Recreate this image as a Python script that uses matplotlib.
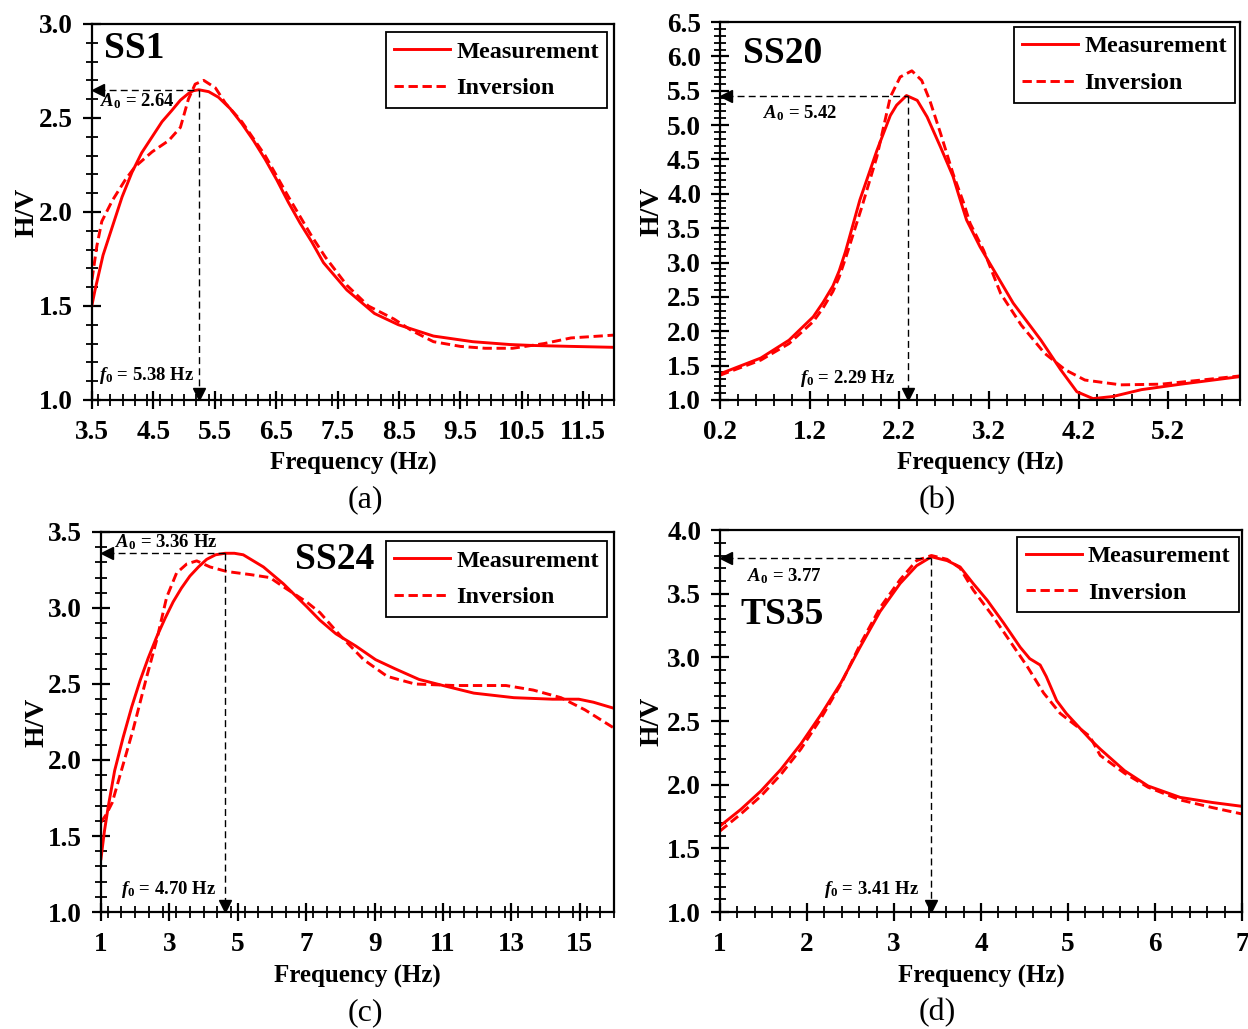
import matplotlib.pyplot as plt
from matplotlib.ticker import MultipleLocator

plt.rcParams['font.family'] = ['Liberation Serif', 'DejaVu Serif']
plt.rcParams['font.weight'] = 'bold'
plt.rcParams['mathtext.fontset'] = 'custom'
plt.rcParams['mathtext.rm'] = 'Liberation Serif:bold'
plt.rcParams['mathtext.it'] = 'Liberation Serif:italic:bold'
plt.rcParams['mathtext.bf'] = 'Liberation Serif:bold'

# ---- (a) SS1 ----
a_meas_f = [3.5, 3.55, 3.68, 3.83, 3.99, 4.15, 4.31, 4.48, 4.64, 4.80, 4.94, 5.07, 5.15, 5.24,
            5.40, 5.56, 5.75, 5.94, 6.13, 6.32, 6.51, 6.70, 6.89, 7.08, 7.27, 7.65, 8.1, 8.49,
            9.06, 9.7, 10.3, 10.67, 11.3, 12.0]
a_meas_hv = [1.505, 1.585, 1.77, 1.92, 2.08, 2.21, 2.315, 2.40, 2.48, 2.54, 2.595, 2.63, 2.645, 2.65,
             2.64, 2.61, 2.55, 2.47, 2.38, 2.28, 2.17, 2.05, 1.94, 1.84, 1.73, 1.585, 1.46, 1.40,
             1.34, 1.31, 1.295, 1.29, 1.285, 1.28]
a_inv_f = [3.5, 3.58, 3.66, 3.83, 4.04, 4.2, 4.48, 4.75, 4.94, 5.07, 5.18, 5.32, 5.51, 5.67,
           5.94, 6.32, 6.70, 7.08, 7.3, 7.65, 8.0, 8.42, 8.7, 9.06, 9.5, 9.9, 10.35, 10.86, 11.3, 12.0]
a_inv_hv = [1.64, 1.82, 1.95, 2.06, 2.17, 2.24, 2.32, 2.38, 2.45, 2.60, 2.68, 2.70, 2.66, 2.58,
            2.48, 2.30, 2.08, 1.87, 1.76, 1.61, 1.50, 1.43, 1.37, 1.31, 1.285, 1.275, 1.275, 1.30, 1.33, 1.345]

# ---- (b) SS20 ----
b_meas_f = [0.2, 0.655, 0.97, 1.24, 1.35, 1.46, 1.53, 1.6, 1.76, 1.95, 2.10, 2.17, 2.28, 2.40,
            2.51, 2.66, 2.80, 2.88, 2.95, 3.10, 3.47, 3.78, 4.0, 4.18, 4.36, 4.58, 4.9, 5.34, 6.0]
b_meas_hv = [1.38, 1.61, 1.87, 2.21, 2.42, 2.66, 2.88, 3.16, 3.91, 4.63, 5.14, 5.29, 5.43, 5.36,
             5.12, 4.68, 4.25, 3.91, 3.62, 3.23, 2.41, 1.87, 1.44, 1.12, 1.02, 1.05, 1.15, 1.23, 1.34]
b_inv_f = [0.2, 0.655, 0.97, 1.24, 1.35, 1.46, 1.53, 1.61, 1.78, 1.95, 2.10, 2.21, 2.34, 2.45,
           2.54, 2.66, 2.80, 2.92, 2.99, 3.14, 3.33, 3.56, 3.82, 4.05, 4.27, 4.67, 5.12, 5.57, 6.0]
b_inv_hv = [1.36, 1.58, 1.82, 2.14, 2.34, 2.58, 2.79, 3.10, 3.80, 4.54, 5.41, 5.70, 5.79, 5.65,
            5.36, 4.88, 4.29, 3.86, 3.57, 3.18, 2.55, 2.09, 1.68, 1.44, 1.29, 1.22, 1.23, 1.29, 1.35]

# ---- (c) SS24 ----
c_meas_f = [1.0, 1.1, 1.21, 1.4, 1.65, 1.9, 2.14, 2.38, 2.63, 2.87, 3.11, 3.35, 3.60, 3.85, 4.09,
            4.35, 4.63, 4.9, 5.16, 5.75, 6.33, 7.01, 7.40, 7.87, 8.45, 9.03, 9.6, 10.3, 11.0, 11.9,
            13.07, 14.2, 14.97, 15.4, 16.0]
c_meas_hv = [1.35, 1.53, 1.69, 1.93, 2.15, 2.35, 2.52, 2.67, 2.81, 2.93, 3.04, 3.13, 3.21, 3.27, 3.32,
             3.35, 3.36, 3.36, 3.35, 3.27, 3.16, 3.01, 2.92, 2.83, 2.75, 2.66, 2.60, 2.53, 2.49, 2.44,
             2.41, 2.40, 2.40, 2.38, 2.34]
c_inv_f = [1.0, 1.15, 1.33, 1.52, 1.94, 2.34, 2.63, 2.92, 3.21, 3.51, 3.80, 4.19, 4.68, 5.36, 5.94,
           6.33, 7.01, 7.40, 7.99, 8.68, 9.37, 10.18, 11.33, 12.84, 13.64, 14.45, 15.15, 16.0]
c_inv_hv = [1.59, 1.64, 1.72, 1.87, 2.20, 2.55, 2.79, 3.07, 3.23, 3.29, 3.31, 3.27, 3.24, 3.22, 3.20,
            3.14, 3.04, 2.97, 2.82, 2.66, 2.55, 2.50, 2.49, 2.49, 2.46, 2.41, 2.33, 2.21]

# ---- (d) TS35 ----
d_meas_f = [1.0, 1.24, 1.47, 1.70, 1.93, 2.16, 2.39, 2.61, 2.84, 3.07, 3.26, 3.43, 3.61, 3.76,
            3.91, 4.07, 4.26, 4.45, 4.56, 4.68, 4.75, 4.87, 4.98, 5.25, 5.37, 5.65, 5.92, 6.29, 6.66, 7.0]
d_meas_hv = [1.675, 1.806, 1.95, 2.12, 2.32, 2.55, 2.80, 3.08, 3.36, 3.58, 3.72, 3.79, 3.76, 3.71,
             3.58, 3.45, 3.27, 3.08, 2.99, 2.94, 2.85, 2.66, 2.56, 2.36, 2.28, 2.11, 1.99, 1.90, 1.86, 1.83]
d_inv_f = [1.0, 1.24, 1.47, 1.70, 1.93, 2.16, 2.39, 2.61, 2.84, 3.07, 3.26, 3.43, 3.61, 3.76,
           3.91, 4.14, 4.33, 4.53, 4.72, 4.91, 5.25, 5.37, 5.65, 5.92, 6.29, 6.66, 7.0]
d_inv_hv = [1.636, 1.77, 1.91, 2.08, 2.28, 2.52, 2.79, 3.10, 3.39, 3.61, 3.76, 3.80, 3.77, 3.70,
            3.53, 3.32, 3.13, 2.93, 2.72, 2.56, 2.38, 2.23, 2.09, 1.98, 1.88, 1.82, 1.77]

# peak markers (position as drawn) and their labels
peak_f = [5.24, 2.295, 4.63, 3.43]
peak_a = [2.65, 5.43, 3.364, 3.78]
a0_text = [r'$\mathit{A_0}$ = 2.64', r'$\mathit{A_0}$ = 5.42', r'$\mathit{A_0}$ = 3.36 Hz', r'$\mathit{A_0}$ = 3.77']
f0_text = [r'$\mathit{f_0}$ = 5.38 Hz', r'$\mathit{f_0}$ = 2.29 Hz', r'$\mathit{f_0}$ = 4.70 Hz', r'$\mathit{f_0}$ = 3.41 Hz']
a0_pos = [(4.24, 2.59), (1.09, 5.17), (2.92, 3.43), (1.74, 3.64)]
f0_pos = [(4.39, 1.13), (1.62, 1.31), (2.99, 1.15), (2.74, 1.18)]

stations = ['SS1', 'SS20', 'SS24', 'TS35']
captions = ['(a)', '(b)', '(c)', '(d)']
xlims = [(3.5, 12.0), (0.2, 6.0), (1, 16), (1, 7)]
ylims = [(1.0, 3.0), (1.0, 6.5), (1.0, 3.5), (1.0, 4.0)]
xticks = [[3.5 + k for k in range(9)], [0.2 + k for k in range(6)], list(range(1, 17, 2)), list(range(1, 8))]
xminor = [0.2, 0.2, 0.4, 0.2]
xfmt = ['%.1f', '%.1f', '%d', '%d']

meas = [(a_meas_f, a_meas_hv), (b_meas_f, b_meas_hv), (c_meas_f, c_meas_hv), (d_meas_f, d_meas_hv)]
inv = [(a_inv_f, a_inv_hv), (b_inv_f, b_inv_hv), (c_inv_f, c_inv_hv), (d_inv_f, d_inv_hv)]

# layout
axes_rect = [[0.0737, 0.6113, 0.4183, 0.3654],
             [0.5769, 0.6113, 0.4167, 0.3673],
             [0.0809, 0.1137, 0.4111, 0.3693],
             [0.5769, 0.1137, 0.4183, 0.3712]]
station_xy = [(0.023, 0.935, 'left'), (0.044, 0.918, 'left'), (0.532, 0.928, 'right'), (0.04, 0.78, 'left')]
legend_anchor = [(0.987, 0.978), (0.991, 0.987), (0.987, 0.976), (0.994, 0.983)]
ylabel_x = [-0.1, -0.107, -0.1, -0.106]
caption_xy = [(0.2925, 0.514), (0.751, 0.514), (0.2925, 0.016), (0.751, 0.016)]

fig = plt.figure(figsize=(12.48, 10.29), dpi=100)

for i in range(4):
    ax = fig.add_axes(axes_rect[i])
    ax.plot(*meas[i], color='#ff0000', lw=2.1, solid_joinstyle='round', label='Measurement')
    ax.plot(*inv[i], color='#ff0000', lw=2.1, linestyle=(0, (3.2, 1.6)), label='Inversion')

    x0, x1 = xlims[i]
    y0, y1 = ylims[i]
    ax.set_xlim(x0, x1)
    ax.set_ylim(y0, y1)

    # peak guide arrows
    fx, ay = peak_f[i], peak_a[i]
    dx = (x1 - x0) * 0.012
    dy = (y1 - y0) * 0.016
    ax.plot([x0 + dx, fx], [ay, ay], color='black', lw=1.0, linestyle=(0, (5, 3)))
    ax.plot([fx, fx], [ay, y0 + dy], color='black', lw=1.0, linestyle=(0, (5, 3)))
    ax.plot([x0 + dx], [ay], marker='<', color='black', ms=9, clip_on=False)
    ax.plot([fx], [y0 + dy], marker='v', color='black', ms=9, clip_on=False)
    ax.text(*a0_pos[i], a0_text[i], fontsize=13.5, ha='center', va='center')
    ax.text(*f0_pos[i], f0_text[i], fontsize=13.5, ha='center', va='center')

    sx, sy, sha = station_xy[i]
    ax.text(sx, sy, stations[i], transform=ax.transAxes, fontsize=27, ha=sha, va='center')

    ax.set_xticks(xticks[i])
    ax.xaxis.set_minor_locator(MultipleLocator(xminor[i]))
    ax.yaxis.set_major_locator(MultipleLocator(0.5))
    ax.yaxis.set_minor_locator(MultipleLocator(0.1))
    ax.xaxis.set_major_formatter(plt.FormatStrFormatter(xfmt[i]))
    ax.yaxis.set_major_formatter(plt.FormatStrFormatter('%.1f'))
    ax.tick_params(which='major', direction='inout', length=13, width=1.6, labelsize=19.5)
    ax.tick_params(axis='x', which='major', pad=8)
    ax.tick_params(axis='y', which='major', pad=7)
    ax.tick_params(which='minor', direction='inout', length=9, width=1.3)
    for sp in ax.spines.values():
        sp.set_linewidth(1.6)

    ax.set_xlabel('Frequency (Hz)', fontsize=18, fontweight='bold')
    ax.set_ylabel('H/V', fontsize=20, fontweight='bold')
    ax.xaxis.set_label_coords(0.5, -0.138)
    ax.yaxis.set_label_coords(ylabel_x[i], 0.5)

    leg = ax.legend(loc='upper right', bbox_to_anchor=legend_anchor[i], borderaxespad=0,
                    fontsize=17.5, handlelength=2.3, handletextpad=0.25, labelspacing=0.6,
                    borderpad=0.35, fancybox=False, framealpha=1)
    leg.get_frame().set_edgecolor('black')
    leg.get_frame().set_linewidth(1.3)

    fig.text(*caption_xy[i], captions[i], fontsize=23, fontweight='normal', ha='center', va='center')

fig.savefig('out.png', dpi=100)
